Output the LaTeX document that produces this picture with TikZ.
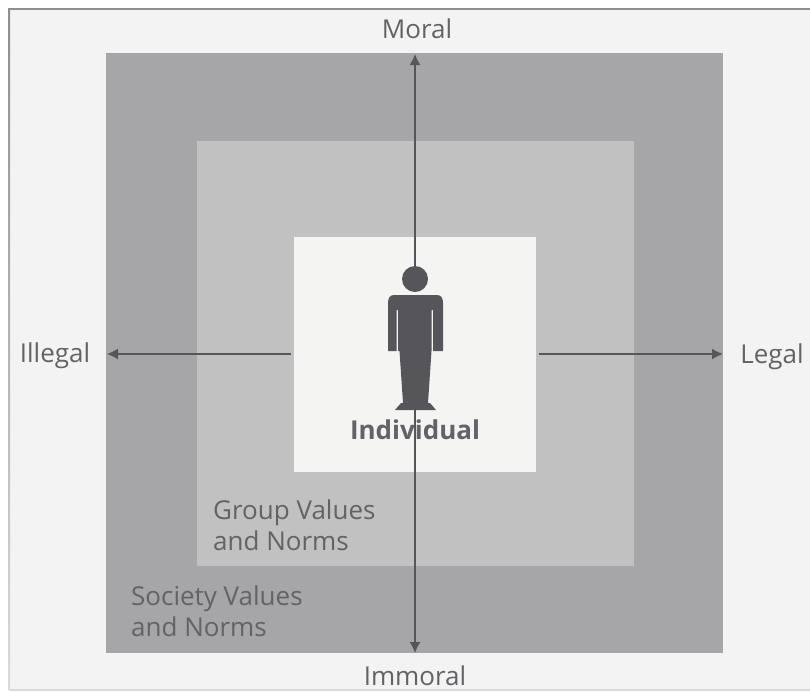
\documentclass[tikz,border=0pt]{standalone}
\usepackage{fontspec}
\setmainfont{Open Sans}
\usetikzlibrary{arrows.meta}
\definecolor{pagebg}{HTML}{F2F3F2}
\definecolor{outerc}{HTML}{A6A6A8}
\definecolor{midc}{HTML}{C0C1C0}
\definecolor{innerc}{HTML}{F4F4F3}
\definecolor{inkc}{HTML}{55555A}
\definecolor{framec}{HTML}{8E8E8E}
\definecolor{framelt}{HTML}{DADADA}
\definecolor{textc}{HTML}{636367}
\tikzset{
  x=1pt,y=-1pt,
  sq/.style={draw=none,inner sep=0pt,outer sep=0pt,anchor=north west},
  axis/.style={draw=inkc,line width=1.5pt,-{Latex[length=11pt,width=11pt]}},
  lab/.style={text=textc,font=\fontsize{26}{31}\selectfont,inner sep=0pt,align=left},
  bodyfig/.style={fill=inkc,draw=none}
}
\begin{document}
\begin{tikzpicture}
\useasboundingbox (0,0) rectangle (810,691);
\fill[white] (0,0) rectangle (810,691);
\fill[pagebg] (9,8) rectangle (810,691);
\draw[framec,line width=1.8pt] (8,9) -- (810,9);
\shade[top color=framec,bottom color=framelt] (8,8) rectangle (10,689);
\draw[framelt,line width=1.2pt] (9,690) -- (810,690);
\node[sq,fill=outerc,minimum width=617pt,minimum height=600pt] (outer) at (106,53) {};
\node[sq,fill=midc,minimum width=437pt,minimum height=425pt] (mid) at (197,141) {};
\node[sq,fill=innerc,minimum width=242pt,minimum height=235pt] (inner) at (294,237) {};
% connector ends
\coordinate (up) at (415,54);
\coordinate (down) at (415,653);
\coordinate (lft) at (107,354);
\coordinate (rgt) at (723,354);
\coordinate (cu) at (415,270);
\coordinate (cd) at (415,405);
\coordinate (cl) at (291,354);
\coordinate (cr) at (539,354);
\draw[axis] (cu) -- (up);
\draw[axis] (cd) -- (down);
\draw[axis] (cl) -- (lft);
\draw[axis] (cr) -- (rgt);
% figure
\fill[bodyfig] (415,279) circle (13);
\fill[bodyfig] (394,295) -- (437,295) .. controls (441,295) and (443,298) .. (443,303)
  -- (443,351) -- (433,351) -- (433,310) -- (431.5,310) -- (431.5,351) -- (428,403)
  -- (430,403) -- (436,410) -- (395,410) -- (401,403) -- (403,403) -- (399.5,351)
  -- (398,351) -- (398,310) -- (396.5,310) -- (396.5,351) -- (388,351) -- (388,303)
  .. controls (388,298) and (390,295) .. (394,295) -- cycle;
% labels
\node[lab,anchor=center] (moral) at (417,29) {Moral};
\node[lab,anchor=center] (immoral) at (415,676) {Immoral};
\node[lab,anchor=center] (illegal) at (55,356) {Illegal};
\node[lab,anchor=center] (legal) at (772,357) {Legal};
\node[lab,anchor=center,font=\fontsize{26}{31}\selectfont\bfseries] (indiv) at (415,430) {Individual};
\node[lab,anchor=north west] (group) at (213,500) {Group Values\\and Norms};
\node[lab,anchor=north west] (soc) at (131,586) {Society Values\\and Norms};
\end{tikzpicture}
\end{document}
